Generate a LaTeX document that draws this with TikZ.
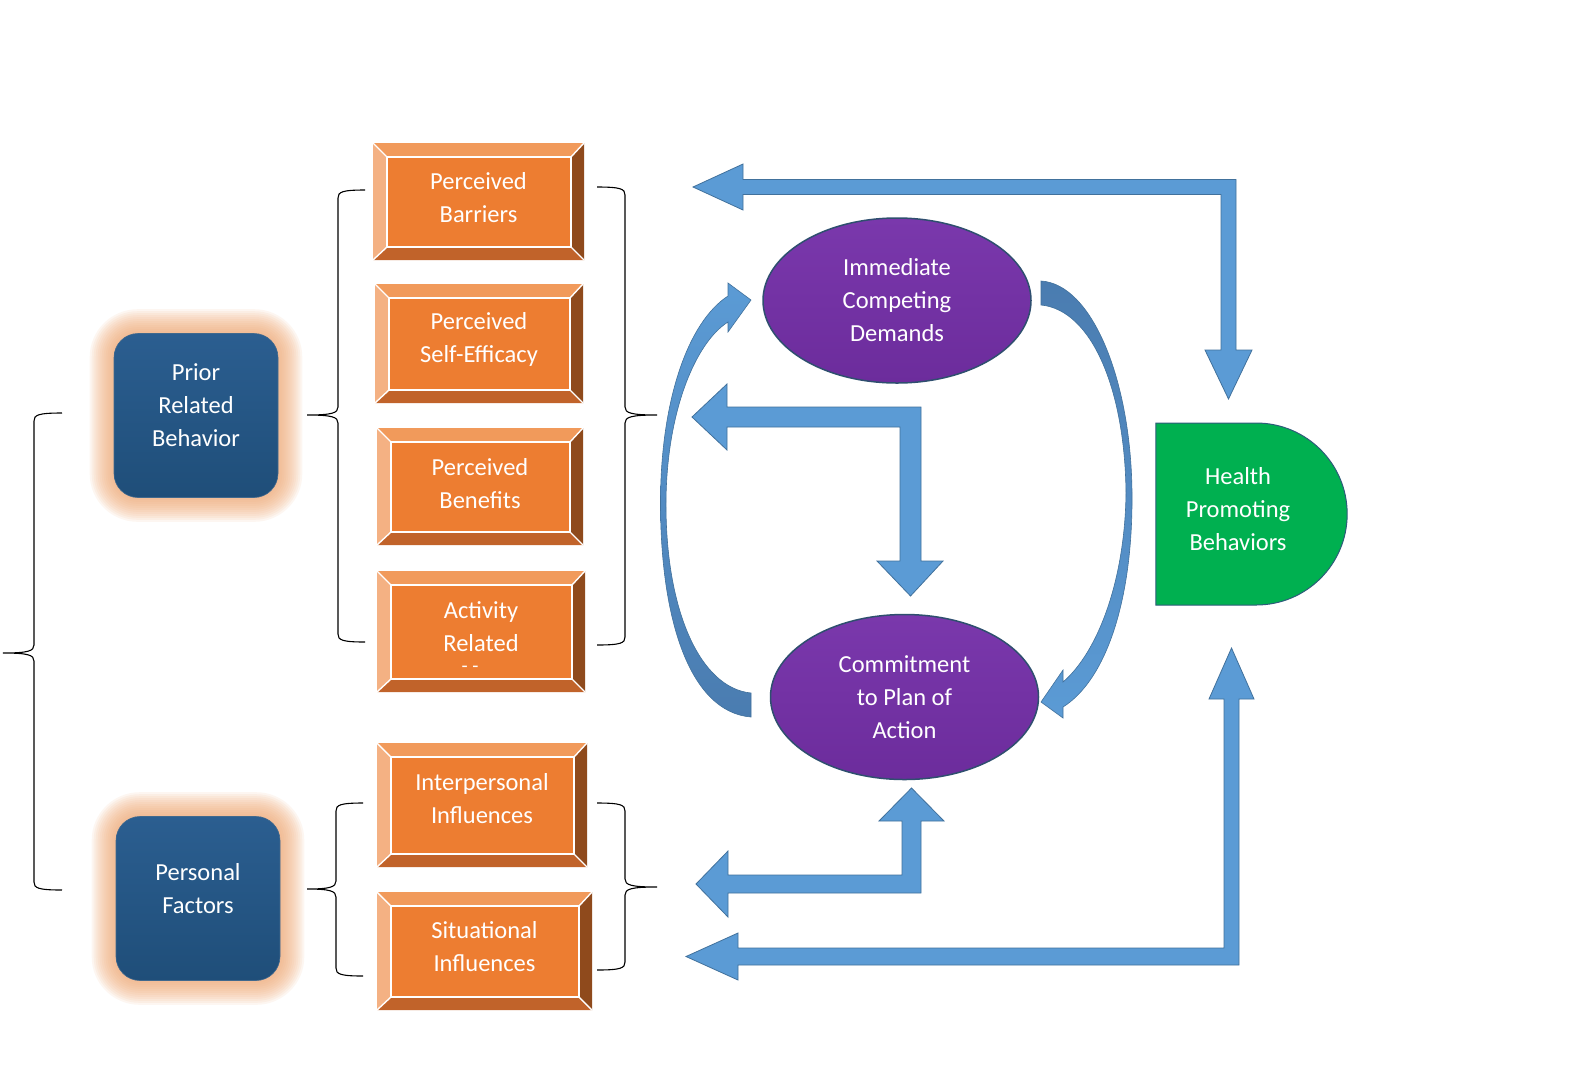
\documentclass[tikz,border=0pt]{standalone}
\usepackage{fontspec}
\setmainfont{Carlito}
\usetikzlibrary{calc,positioning,shapes.geometric,shapes.misc}

\pgfdeclarelayer{bg}
\pgfsetlayers{bg,main}

\definecolor{boxface}{HTML}{ED7D31}
\definecolor{bvltop}{HTML}{F19A5B}
\definecolor{bvlleft}{HTML}{F4B183}
\definecolor{bvlright}{HTML}{8F4A1C}
\definecolor{bvlbot}{HTML}{C1632A}
\definecolor{navy}{HTML}{1F4E79}
\definecolor{navylt}{HTML}{2B5E90}
\definecolor{glow}{HTML}{F2AA76}
\definecolor{plum}{HTML}{6C2C9C}
\definecolor{plumlt}{HTML}{7A38AC}
\definecolor{plumrim}{HTML}{2F4F6F}
\definecolor{leaf}{HTML}{00B050}
\definecolor{leafrim}{HTML}{2E5C7A}
\definecolor{sky}{HTML}{5B9BD5}
\definecolor{skydk}{HTML}{4A7CB0}
\definecolor{skyline}{HTML}{41719C}

\tikzset{
  lbl/.style={align=center, text=white, inner sep=0pt},
  factor/.style={rectangle, rounded corners=24pt, minimum width=164pt, minimum height=164pt,
    top color=navylt, bottom color=navy, draw=navy!85!white, line width=0.6pt},
  bevelbox/.style={rectangle, fill=boxface, inner sep=0pt,
    path picture={
      \coordinate (bNW) at (path picture bounding box.north west);
      \coordinate (bNE) at (path picture bounding box.north east);
      \coordinate (bSW) at (path picture bounding box.south west);
      \coordinate (bSE) at (path picture bounding box.south east);
      \coordinate (iNW) at ([shift={(14pt,-14pt)}]bNW);
      \coordinate (iNE) at ([shift={(-13pt,-14pt)}]bNE);
      \coordinate (iSW) at ([shift={(14pt,13pt)}]bSW);
      \coordinate (iSE) at ([shift={(-13pt,13pt)}]bSE);
      \fill[bvltop] (bNW) -- (bNE) -- (iNE) -- (iNW) -- cycle;
      \fill[bvlright] (bNE) -- (bSE) -- (iSE) -- (iNE) -- cycle;
      \fill[bvlbot] (bSE) -- (bSW) -- (iSW) -- (iSE) -- cycle;
      \fill[bvlleft] (bSW) -- (bNW) -- (iNW) -- (iSW) -- cycle;
      \draw[white, line width=1.4pt] (bNW) -- (iNW) (bNE) -- (iNE) (bSW) -- (iSW) (bSE) -- (iSE);
      \draw[white, line width=2.4pt] (iNW) rectangle (iSE);
    }},
  demand/.style={ellipse, minimum width=268pt, minimum height=165pt, inner sep=0pt, align=center,
    text=white, top color=plumlt, bottom color=plum, draw=plumrim, line width=1.5pt},
  outcome/.style={rounded rectangle, rounded rectangle west arc=none, minimum width=198pt,
    minimum height=182pt, fill=leaf, draw=leafrim, line width=1pt},
  blockarrow/.style={fill=sky, draw=skyline, line width=0.8pt, line join=miter},
  bendarrow/.style={draw=skyline, line width=0.6pt},
  brk/.style={draw=black, line width=1.1pt},
}

% line x, top y, tip y, bottom y, arm x, tip x
\newcommand{\sidebrace}[6]{%
  \pgfmathsetmacro{\brdir}{sign(#5-#1)}
  \draw[brk] (#5,#2) .. controls ({#1+4*(\brdir)},#2) and (#1,{#2+2}) .. (#1,{#2+8})
    -- (#1,{#3-8}) .. controls (#1,{#3-2}) and ({#1-6*(\brdir)},#3) .. (#6,#3)
    .. controls ({#1-6*(\brdir)},#3) and (#1,{#3+2}) .. (#1,{#3+8})
    -- (#1,{#4-8}) .. controls (#1,{#4-2}) and ({#1+4*(\brdir)},#4) .. (#5,#4);
}

\begin{document}
\begin{tikzpicture}[x=1pt,y=-1pt,font=\fontsize{24.5}{33}\selectfont]
  \useasboundingbox (0,0) rectangle (1581,1080);
  \begin{pgfonlayer}{bg}
    \fill[white] (0,0) rectangle (1581,1080);
  \end{pgfonlayer}

  % left factors
  \node[factor] (prb) at (196,415.5) {};
  \node[lbl] (prbtxt) at (196,405) {Prior\\Related\\Behavior};
  \node[factor] (pf) at (198,898.5) {};
  \node[lbl] (pftxt) at (198,889) {Personal\\Factors};

  \begin{pgfonlayer}{bg}
    \foreach \n in {prb,pf}
      \foreach \g in {2,4,...,24}
        \fill[glow, fill opacity=0.1, rounded corners={24pt+\g pt}]
          ([shift={(-\g pt,-\g pt)}]\n.south west) rectangle ([shift={(\g pt,\g pt)}]\n.north east);
  \end{pgfonlayer}

  % cognitions
  \node[bevelbox, minimum width=211pt, minimum height=117pt] (pbar) at (478.5,201.5) {};
  \node[lbl] (pbartxt) at ([yshift=3.5pt]pbar.center) {Perceived\\Barriers};
  \node[bevelbox, minimum width=208pt, minimum height=119pt] (pse) at (479,343.5) {};
  \node[lbl] (psetxt) at ([yshift=4.5pt]pse.center) {Perceived\\Self-Efficacy};
  \node[bevelbox, minimum width=206pt, minimum height=117pt] (pben) at (480,486.5) {};
  \node[lbl] (pbentxt) at ([yshift=3pt]pben.center) {Perceived\\Benefits};
  \node[bevelbox, minimum width=208pt, minimum height=121pt] (arel) at (481,631.5) {};
  \node[lbl] (areltxt) at ([yshift=4.5pt]arel.center) {Activity\\Related};
  \node[lbl, font=\fontsize{20}{20}\selectfont] (areldash) at (470,669) {- -};
  \node[bevelbox, minimum width=210pt, minimum height=124pt] (ipi) at (482,805) {};
  \node[lbl] (ipitxt) at ([yshift=6pt]ipi.center) {Interpersonal\\Influences};
  \node[bevelbox, minimum width=215pt, minimum height=118pt] (sit) at (484.5,951) {};
  \node[lbl] (sittxt) at ([yshift=4pt]sit.center) {Situational\\Influences};

  % braces
  \sidebrace{34}{413}{653}{890}{62}{3}
  \sidebrace{338}{190}{415}{642}{365}{307}
  \sidebrace{625}{187}{415}{645}{597}{657}
  \sidebrace{336}{803}{889}{976}{363}{307}
  \sidebrace{625}{803}{887}{970}{597}{657}

  % demands, commitment, outcome
  \node[demand] (icd) at (897,300.5) {Immediate\\Competing\\Demands};
  \node[demand] (cpa) at (904.5,697) {Commitment\\to Plan of\\Action};
  \node[outcome] (hpb) at (1251.5,514) {};
  \node[lbl] (hpbtxt) at (1238,509) {Health\\Promoting\\Behaviors};

  % block arrows
  \draw[blockarrow] (693,187) -- (743,164) -- (743,179.5) -- (1236,179.5) -- (1236,350) -- (1252,350)
    -- (1228.5,399) -- (1205,350) -- (1221,350) -- (1221,194.5) -- (743,194.5) -- (743,210) -- cycle;
  \draw[blockarrow] (692,417) -- (727,384) -- (727,407) -- (921,407) -- (921,561) -- (943,561)
    -- (910.5,596) -- (877,561) -- (900,561) -- (900,427) -- (727,427) -- (727,450) -- cycle;
  \draw[blockarrow] (696,884) -- (728,851) -- (728,875) -- (902,875) -- (902,821) -- (879,821)
    -- (911.5,788) -- (944,821) -- (921,821) -- (921,893) -- (728,893) -- (728,917) -- cycle;
  \draw[blockarrow] (686,956.5) -- (738,933) -- (738,948) -- (1224,948) -- (1224,699) -- (1209,699)
    -- (1231.5,648) -- (1254,699) -- (1239,699) -- (1239,965) -- (738,965) -- (738,980) -- cycle;

  % curved arrows
  \draw[bendarrow, top color=sky, bottom color=skydk] (751,717) .. controls (690,712) and (660,620) .. (660.5,500)
    .. controls (661,400) and (688,322) .. (728,296) -- (728,283) -- (751,300) -- (728,332) -- (728,322)
    .. controls (696,342) and (667,410) .. (666,500) .. controls (665,610) and (700,688) .. (751,693) -- cycle;
  \draw[bendarrow, top color=skydk, bottom color=sky] (1041,281) .. controls (1092,284) and (1131,380) .. (1132,493)
    .. controls (1133,600) and (1106,680) .. (1063,707) -- (1063,718) -- (1041,702) -- (1063,670) -- (1063,682)
    .. controls (1098,652) and (1125,580) .. (1126,493) .. controls (1125,390) and (1092,310) .. (1041,305) -- cycle;
\end{tikzpicture}
\end{document}
